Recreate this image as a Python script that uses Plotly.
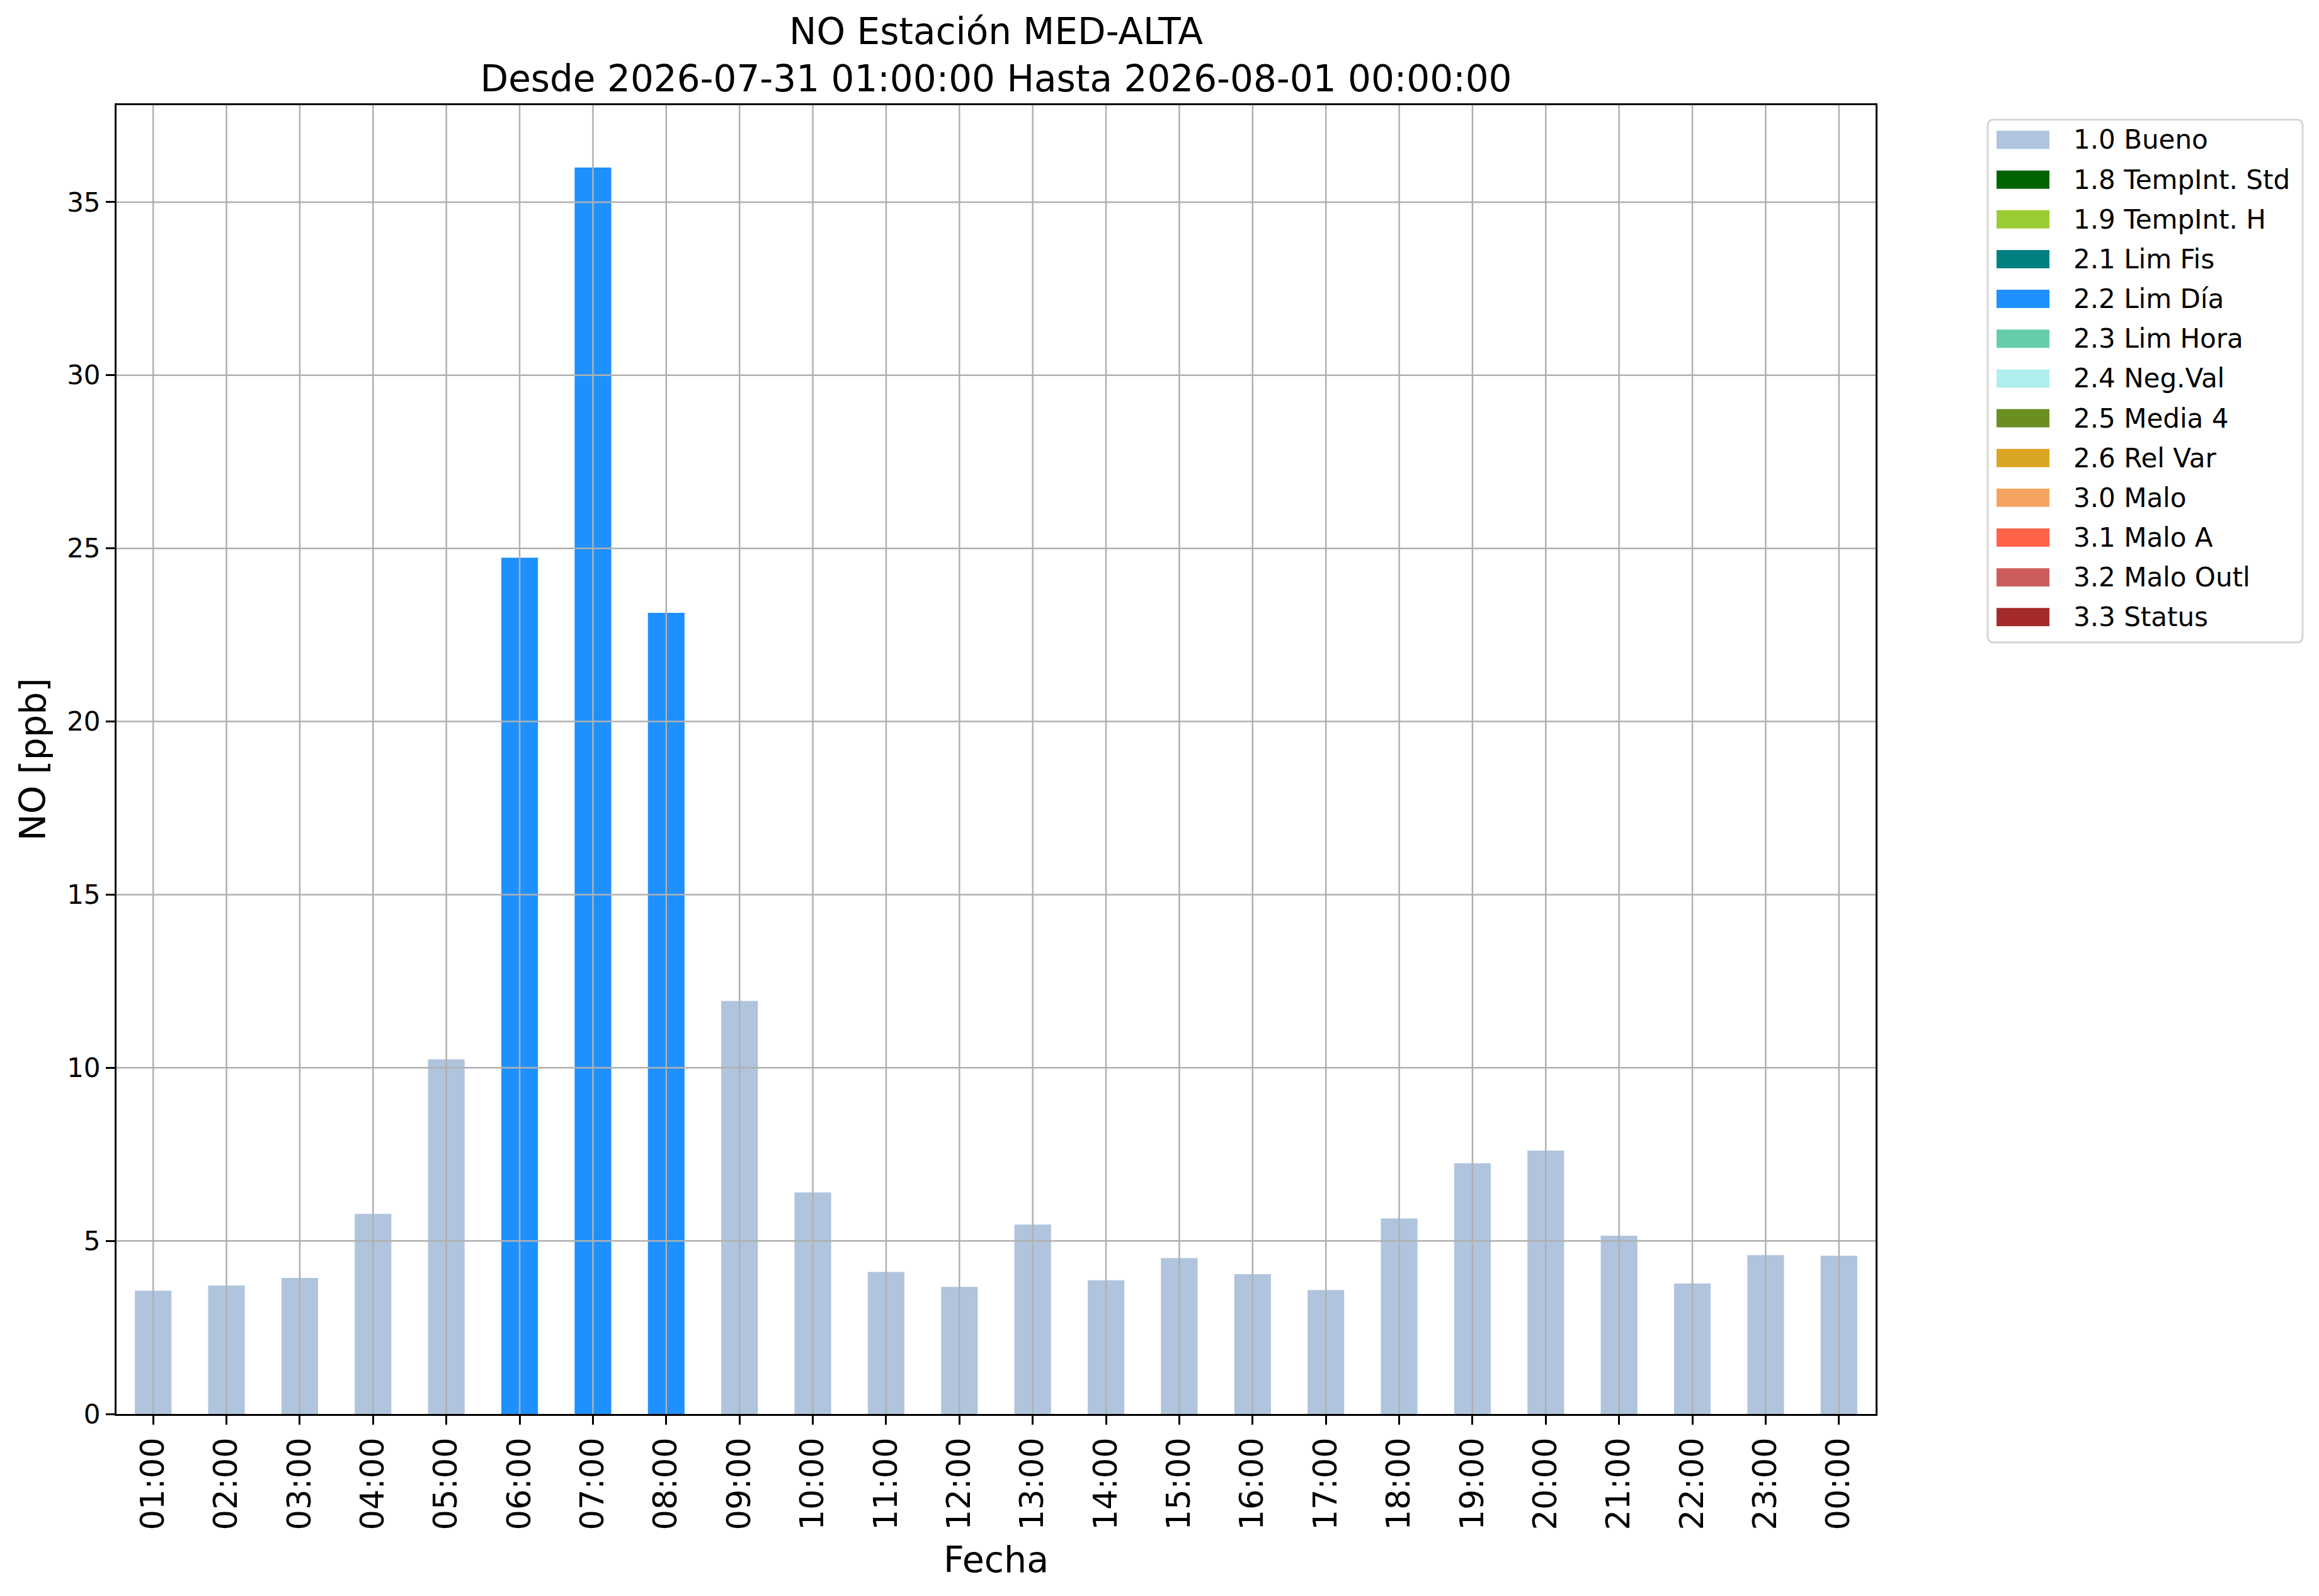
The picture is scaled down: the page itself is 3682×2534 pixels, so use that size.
import plotly.graph_objects as go

# ---------------- data ----------------
HOURS = ["01:00", "02:00", "03:00", "04:00", "05:00", "06:00", "07:00", "08:00",
         "09:00", "10:00", "11:00", "12:00", "13:00", "14:00", "15:00", "16:00",
         "17:00", "18:00", "19:00", "20:00", "21:00", "22:00", "23:00", "00:00"]
NO_PPB = [3.56, 3.71, 3.93, 5.78, 10.24, 24.73, 36.0, 23.14,
          11.93, 6.40, 4.10, 3.67, 5.47, 3.86, 4.50, 4.04,
          3.58, 5.65, 7.24, 7.61, 5.15, 3.77, 4.59, 4.57]
FLAGS = ["1.0", "1.0", "1.0", "1.0", "1.0", "2.2", "2.2", "2.2",
         "1.0", "1.0", "1.0", "1.0", "1.0", "1.0", "1.0", "1.0",
         "1.0", "1.0", "1.0", "1.0", "1.0", "1.0", "1.0", "1.0"]

FLAG_CODES = ["1.0", "1.8", "1.9", "2.1", "2.2", "2.3", "2.4", "2.5", "2.6",
              "3.0", "3.1", "3.2", "3.3"]
FLAG_NAMES = ["1.0 Bueno", "1.8 TempInt. Std", "1.9 TempInt. H", "2.1 Lim Fis",
              "2.2 Lim Día", "2.3 Lim Hora", "2.4 Neg.Val", "2.5 Media 4",
              "2.6 Rel Var", "3.0 Malo", "3.1 Malo A", "3.2 Malo Outl", "3.3 Status"]
FLAG_COLORS = ["#B0C4DE", "#006400", "#9ACD32", "#008080", "#1E90FF", "#66CDAA",
               "#AFEEEE", "#6B8E23", "#DAA520", "#F4A460", "#FF6347", "#CD5C5C",
               "#A52A2A"]

Y_TICKS = [0, 5, 10, 15, 20, 25, 30, 35]
Y_MAX = 37.8

TITLE = "NO Estación MED-ALTA<br>Desde 2026-07-31 01:00:00 Hasta 2026-08-01 00:00:00"
X_LABEL = "Fecha"
Y_LABEL = "NO [ppb]"

# ---------------- layout geometry (pixels) ----------------
W, H = 3682, 2534
L, R, T, B = 185, 2978, 167, 2245
FONT = "DejaVu Sans"
GRID = "#b0b0b0"


def px(xp):
    return (xp - L) / (R - L)


def py(yp):
    return (B - yp) / (B - T)


fig = go.Figure()

for code, name, color in zip(FLAG_CODES, FLAG_NAMES, FLAG_COLORS):
    yv = [v if f == code else None for v, f in zip(NO_PPB, FLAGS)]
    fig.add_trace(go.Bar(x=HOURS, y=yv, name=name, marker_color=color,
                         marker_line_width=0, width=0.5, showlegend=False))

shapes = []
# grid lines drawn above bars (as in the reference)
for yt in Y_TICKS[1:]:
    shapes.append(dict(type="line", xref="paper", yref="y", x0=0, x1=1, y0=yt, y1=yt,
                       line=dict(color=GRID, width=2.5), layer="above"))
for i in range(len(HOURS)):
    shapes.append(dict(type="line", xref="x", yref="paper", x0=i, x1=i, y0=0, y1=1,
                       line=dict(color=GRID, width=2.5), layer="above"))

# legend box
lx0, lx1, ly0, ly1 = 3156, 3656, 190, 1020
rx, ry = 10, 10
path = (f"M {px(lx0 + rx)} {py(ly0)} L {px(lx1 - rx)} {py(ly0)} "
        f"Q {px(lx1)} {py(ly0)} {px(lx1)} {py(ly0 + ry)} "
        f"L {px(lx1)} {py(ly1 - ry)} Q {px(lx1)} {py(ly1)} {px(lx1 - rx)} {py(ly1)} "
        f"L {px(lx0 + rx)} {py(ly1)} Q {px(lx0)} {py(ly1)} {px(lx0)} {py(ly1 - ry)} "
        f"L {px(lx0)} {py(ly0 + ry)} Q {px(lx0)} {py(ly0)} {px(lx0 + rx)} {py(ly0)} Z")
shapes.append(dict(type="path", xref="paper", yref="paper", path=path,
                   line=dict(color="#d6d6d6", width=3), fillcolor="rgba(255,255,255,0.8)"))

annotations = []
for k, (name, color) in enumerate(zip(FLAG_NAMES, FLAG_COLORS)):
    cy = 222 + 63.15 * k
    shapes.append(dict(type="rect", xref="paper", yref="paper",
                       x0=px(3170), x1=px(3254), y0=py(cy - 14.5), y1=py(cy + 14.5),
                       fillcolor=color, line=dict(width=0)))
    annotations.append(dict(text=name, xref="paper", yref="paper", x=px(3290), y=py(cy),
                            xanchor="left", yanchor="middle", showarrow=False,
                            font=dict(family=FONT, size=42, color="black")))

# axis titles
annotations.append(dict(text=X_LABEL, xref="paper", yref="paper", x=0.5, y=py(2476),
                        xanchor="center", yanchor="middle", showarrow=False,
                        font=dict(family=FONT, size=57, color="black")))
annotations.append(dict(text=Y_LABEL, xref="paper", yref="paper", x=px(52), y=0.5,
                        xanchor="center", yanchor="middle", showarrow=False, textangle=-90,
                        font=dict(family=FONT, size=57, color="black")))

fig.update_layout(
    width=W, height=H, autosize=False,
    margin=dict(l=L, r=W - R, t=T, b=H - B, pad=0),
    paper_bgcolor="white", plot_bgcolor="white",
    barmode="overlay",
    font=dict(family=FONT, color="black"),
    title=dict(text=TITLE, x=(L + R) / 2 / W, xanchor="center",
               y=1 - 70 / H, yanchor="middle", yref="container",
               font=dict(family=FONT, size=58, color="black")),
    shapes=shapes,
    annotations=annotations,
    xaxis=dict(type="category", categoryorder="array", categoryarray=HOURS,
               range=[-0.5, len(HOURS) - 0.5], showgrid=False, zeroline=False,
               showline=True, linecolor="black", linewidth=3, mirror=True,
               ticks="outside", ticklen=14, tickwidth=3, tickcolor="black",
               tickangle=-90, tickfont=dict(family=FONT, size=51, color="black"),
               layer="above traces"),
    yaxis=dict(range=[0, Y_MAX], tickvals=Y_TICKS, ticktext=[str(v) for v in Y_TICKS],
               showgrid=False, zeroline=False,
               showline=True, linecolor="black", linewidth=3, mirror=True,
               ticks="outside", ticklen=14, tickwidth=3, tickcolor="black",
               tickfont=dict(family=FONT, size=42, color="black"),
               layer="above traces"),
)

fig.write_html("out.html", config={"displayModeBar": False},
               post_script="document.body.style.margin='0';document.body.style.overflow='hidden';")
